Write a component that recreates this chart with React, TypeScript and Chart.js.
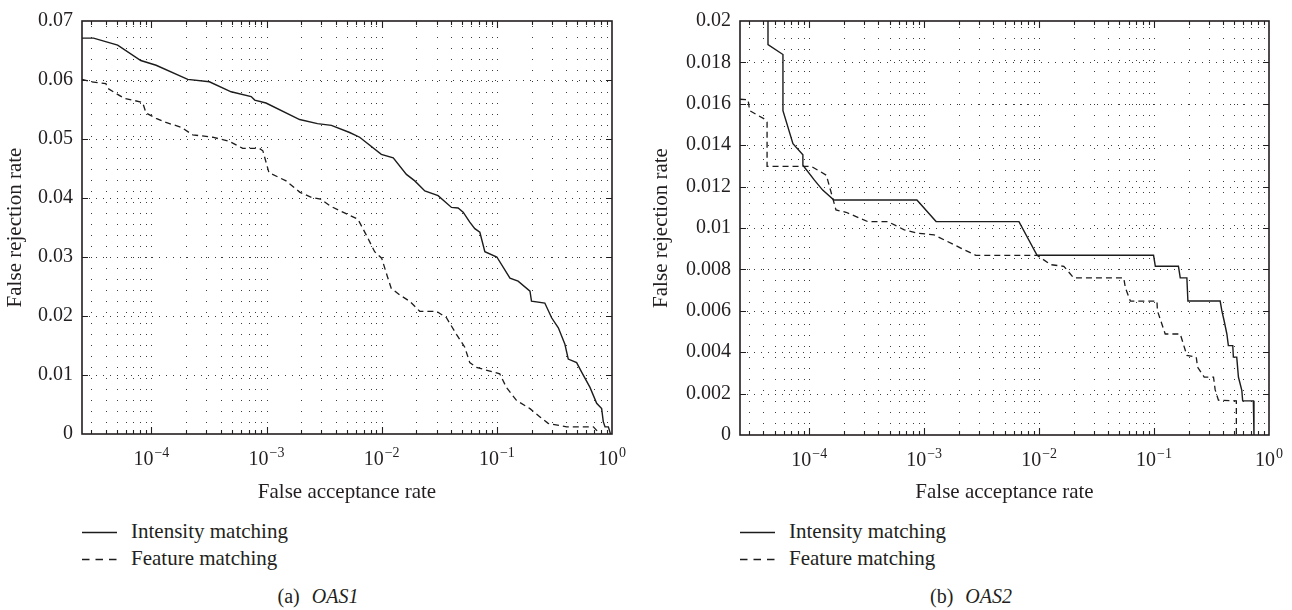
import React, { useEffect, useRef } from 'react';
import { Chart, registerables } from 'chart.js';

Chart.register(...registerables);

const FONT = '"Liberation Serif", "Times New Roman", serif';
const INK = '#231f20';

// ---- axis definitions ----
const X_MIN = 2.5e-5;
const X_MAX = 1;
const xDecades = [1e-4, 1e-3, 1e-2, 1e-1, 1];
const xDecadeBase = '10';
const xDecadeExponents = ['\u22124', '\u22123', '\u22122', '\u22121', '0'];
const xGridExponents = [-5, -4, -3, -2, -1];
const xGridMantissas = [1, 2, 3, 4, 5, 6, 7, 8, 9];

const oas1YMax = 0.07;
const oas1YTicks = [0, 0.01, 0.02, 0.03, 0.04, 0.05, 0.06, 0.07];
const oas1YLabels = ['0', '0.01', '0.02', '0.03', '0.04', '0.05', '0.06', '0.07'];

const oas2YMax = 0.02;
const oas2YTicks = [0, 0.002, 0.004, 0.006, 0.008, 0.01, 0.012, 0.014, 0.016, 0.018, 0.02];
const oas2YLabels = ['0', '0.002', '0.004', '0.006', '0.008', '0.01', '0.012', '0.014', '0.016', '0.018', '0.02'];

// ---- (a) OAS1 ----
const oas1IntensityFar = [2.5e-5, 3.15e-5, 5.1e-5, 8.1e-5, 1.1e-4, 2.07e-4, 3.19e-4, 4.93e-4, 7.36e-4, 7.9e-4, 9.9e-4, 1.94e-3, 2.77e-3, 3.66e-3, 5.27e-3, 6.44e-3, 9.93e-3, 0.0126, 0.0164, 0.0194, 0.0237, 0.0309, 0.0404, 0.0461, 0.051, 0.0582, 0.0644, 0.0712, 0.0787, 0.1, 0.13, 0.153, 0.194, 0.2, 0.261, 0.299, 0.342, 0.39, 0.417, 0.493, 0.545, 0.644, 0.736, 0.813, 0.84, 0.87, 0.93, 0.97];
const oas1IntensityFrr = [0.0671, 0.0671, 0.0659, 0.0633, 0.0625, 0.0601, 0.0597, 0.058, 0.0572, 0.0566, 0.0561, 0.0533, 0.0526, 0.0523, 0.0511, 0.0503, 0.0474, 0.0468, 0.044, 0.0429, 0.0412, 0.0404, 0.0384, 0.0383, 0.0376, 0.0359, 0.0348, 0.0342, 0.0309, 0.03, 0.0264, 0.0259, 0.0242, 0.0225, 0.0222, 0.0197, 0.018, 0.0152, 0.0127, 0.0121, 0.0105, 0.0079, 0.0052, 0.0043, 0.0021, 0.0012, 0.0012, 0];

const oas1FeatureFar = [2.5e-5, 2.99e-5, 4.03e-5, 4.17e-5, 4.77e-5, 5.82e-5, 8.4e-5, 9.0e-5, 1.1e-4, 1.34e-4, 1.81e-4, 2.29e-4, 3.41e-4, 4.77e-4, 6.22e-4, 8.69e-4, 9.3e-4, 1.05e-3, 1.48e-3, 1.94e-3, 2.45e-3, 2.95e-3, 3.6e-3, 6.22e-3, 7.36e-3, 8.69e-3, 0.01, 0.011, 0.0121, 0.0143, 0.0175, 0.0214, 0.0299, 0.0365, 0.0446, 0.0527, 0.0582, 0.0665, 0.0929, 0.106, 0.121, 0.148, 0.194, 0.237, 0.279, 0.404, 0.689, 0.787];
const oas1FeatureFrr = [0.0601, 0.0597, 0.0594, 0.0586, 0.0579, 0.0569, 0.0562, 0.0544, 0.0535, 0.0528, 0.052, 0.0507, 0.0503, 0.0496, 0.0484, 0.0484, 0.048, 0.0443, 0.0429, 0.041, 0.0401, 0.0398, 0.0386, 0.0364, 0.0337, 0.0309, 0.0298, 0.0272, 0.0247, 0.0236, 0.0225, 0.0208, 0.0208, 0.0197, 0.0169, 0.0147, 0.0121, 0.0113, 0.0105, 0.0102, 0.0079, 0.0057, 0.0043, 0.0029, 0.0018, 0.0012, 0.0012, 0];

// ---- (b) OAS2 ----
const oas2IntensityFar = [4.38e-5, 4.38e-5, 5.91e-5, 5.91e-5, 7.22e-5, 8.81e-5, 8.81e-5, 1.11e-4, 1.31e-4, 1.64e-4, 8.65e-4, 1.27e-3, 6.68e-3, 9.6e-3, 0.099, 0.1026, 0.163, 0.169, 0.193, 0.197, 0.376, 0.389, 0.407, 0.43, 0.443, 0.484, 0.49, 0.524, 0.542, 0.58, 0.59, 0.731, 0.74];
const oas2IntensityFrr = [0.02, 0.01886, 0.01838, 0.01567, 0.01407, 0.01354, 0.01303, 0.01231, 0.01183, 0.01135, 0.01135, 0.01031, 0.01031, 0.00868, 0.00868, 0.00815, 0.00815, 0.00759, 0.00759, 0.00647, 0.00647, 0.006, 0.00552, 0.00488, 0.00432, 0.00432, 0.00376, 0.00376, 0.0028, 0.00216, 0.00165, 0.00165, 0];

const oas2FeatureFar = [2.5e-5, 2.94e-5, 3.03e-5, 4.15e-5, 4.3e-5, 4.3e-5, 1.04e-4, 1.41e-4, 1.71e-4, 2.09e-4, 3.23e-4, 4.82e-4, 6.72e-4, 8.77e-4, 1.22e-3, 2.08e-3, 2.81e-3, 9.6e-3, 0.0126, 0.0164, 0.02, 0.0545, 0.0563, 0.0622, 0.106, 0.107, 0.125, 0.169, 0.193, 0.233, 0.239, 0.273, 0.329, 0.34, 0.363, 0.52, 0.52];
const oas2FeatureFrr = [0.01622, 0.0162, 0.01567, 0.01524, 0.01511, 0.01298, 0.01298, 0.01255, 0.01087, 0.01076, 0.01031, 0.01031, 0.00991, 0.00975, 0.00967, 0.00903, 0.00868, 0.00868, 0.00823, 0.00815, 0.00759, 0.00759, 0.00711, 0.00647, 0.00647, 0.006, 0.00488, 0.00488, 0.00384, 0.00376, 0.00328, 0.0028, 0.0028, 0.00219, 0.00168, 0.00165, 0];

const seriesNames = ['Intensity matching', 'Feature matching'];

function zip(xs: number[], ys: number[]) {
  const n = Math.min(xs.length, ys.length);
  const out: { x: number; y: number }[] = [];
  for (let i = 0; i < n; i++) out.push({ x: xs[i], y: ys[i] });
  return out;
}

function decadeIndex(v: number) {
  for (let i = 0; i < xDecades.length; i++) {
    if (Math.abs(Math.log10(v) - Math.log10(xDecades[i])) < 1e-9) return i;
  }
  return -1;
}

function xTickValues() {
  const out: number[] = [];
  for (const e of xGridExponents) {
    for (const m of xGridMantissas) {
      const v = m * Math.pow(10, e);
      if (v > X_MIN * 1.0001 && v < X_MAX) out.push(v);
    }
  }
  out.push(X_MAX);
  return out;
}

const framePlugin = {
  id: 'frameAndGrid',
  beforeDatasetsDraw(chart: any) {
    const { ctx, chartArea: a } = chart;
    const xs = chart.scales.x;
    const ys = chart.scales.y;
    ctx.save();
    ctx.strokeStyle = '#3c3c3c';
    ctx.lineWidth = 1;
    ctx.setLineDash([1, 10]);
    for (const t of xs.ticks) {
      const px = Math.round(xs.getPixelForValue(t.value)) + 0.5;
      if (px <= a.left + 2 || px >= a.right - 2) continue;
      ctx.beginPath();
      ctx.moveTo(px, a.bottom);
      ctx.lineTo(px, a.top);
      ctx.stroke();
    }
    ctx.setLineDash([1, 6]);
    for (const t of ys.ticks) {
      const py = Math.round(ys.getPixelForValue(t.value)) + 0.5;
      if (py <= a.top + 2 || py >= a.bottom - 2) continue;
      ctx.beginPath();
      ctx.moveTo(a.left, py);
      ctx.lineTo(a.right, py);
      ctx.stroke();
    }
    ctx.restore();
  },
  afterDatasetsDraw(chart: any) {
    const { ctx, chartArea: a } = chart;
    const xs = chart.scales.x;
    const ys = chart.scales.y;
    ctx.save();
    ctx.setLineDash([]);
    ctx.strokeStyle = INK;
    ctx.lineWidth = 1.1;
    for (const t of xs.ticks) {
      const px = Math.round(xs.getPixelForValue(t.value)) + 0.5;
      if (px <= a.left + 2 || px >= a.right - 2) continue;
      const len = t.major ? 7 : 4;
      ctx.beginPath();
      ctx.moveTo(px, a.bottom);
      ctx.lineTo(px, a.bottom - len);
      ctx.moveTo(px, a.top);
      ctx.lineTo(px, a.top + len);
      ctx.stroke();
    }
    for (const t of ys.ticks) {
      const py = Math.round(ys.getPixelForValue(t.value)) + 0.5;
      if (py <= a.top + 2 || py >= a.bottom - 2) continue;
      ctx.beginPath();
      ctx.moveTo(a.left, py);
      ctx.lineTo(a.left + 6, py);
      ctx.moveTo(a.right, py);
      ctx.lineTo(a.right - 6, py);
      ctx.stroke();
    }
    ctx.lineWidth = 1.6;
    ctx.strokeRect(a.left, a.top, a.right - a.left, a.bottom - a.top);

    // decade labels 10^k with a raised exponent
    ctx.fillStyle = INK;
    ctx.textAlign = 'left';
    ctx.textBaseline = 'alphabetic';
    const baseY = a.bottom + 31;
    for (const t of xs.ticks) {
      const i = decadeIndex(t.value);
      if (i < 0) continue;
      const px = xs.getPixelForValue(t.value);
      const exp = xDecadeExponents[i];
      ctx.font = `20px ${FONT}`;
      const w1 = ctx.measureText(xDecadeBase).width;
      ctx.font = `14px ${FONT}`;
      const w2 = ctx.measureText(exp).width;
      const start = px - (w1 + 1 + w2) / 2;
      ctx.font = `20px ${FONT}`;
      ctx.fillText(xDecadeBase, start, baseY);
      ctx.font = `14px ${FONT}`;
      ctx.fillText(exp, start + w1 + 1, baseY - 8.5);
    }
    ctx.restore();
  },
};

type Props = {
  width: number;
  height: number;
  yAxisWidth: number;
  padTop: number;
  padRight: number;
  xAxisHeight: number;
  yMax: number;
  yTicks: number[];
  yLabels: string[];
  intensity: { x: number; y: number }[];
  feature: { x: number; y: number }[];
};

function RocChart(p: Props) {
  const ref = useRef<HTMLCanvasElement>(null);
  useEffect(() => {
    if (!ref.current) return;
    const chart = new Chart(ref.current, {
      type: 'line',
      data: {
        datasets: [
          {
            label: seriesNames[0],
            data: p.intensity,
            borderColor: '#1c1c1c',
            borderWidth: 1.4,
            pointRadius: 0,
            fill: false,
            tension: 0,
          },
          {
            label: seriesNames[1],
            data: p.feature,
            borderColor: '#1c1c1c',
            borderWidth: 1.3,
            borderDash: [6, 4],
            pointRadius: 0,
            fill: false,
            tension: 0,
          },
        ],
      },
      options: {
        animation: false,
        responsive: false,
        devicePixelRatio: 1,
        events: [],
        layout: { padding: { top: p.padTop, right: p.padRight, left: 0, bottom: 0 } },
        plugins: {
          legend: { display: false },
          tooltip: { enabled: false },
        },
        scales: {
          x: {
            type: 'logarithmic',
            position: 'bottom',
            min: X_MIN,
            max: X_MAX,
            afterBuildTicks: (scale: any) => {
              scale.ticks = xTickValues().map((v) => ({ value: v, major: decadeIndex(v) >= 0 }));
            },
            afterFit: (scale: any) => {
              scale.height = p.xAxisHeight;
            },
            grid: { display: false, drawTicks: false },
            border: { display: false },
            ticks: {
              autoSkip: false,
              maxRotation: 0,
              minRotation: 0,
              padding: 12,
              color: INK,
              font: { family: FONT, size: 20 },
              callback: () => '',
            },
            title: {
              display: true,
              text: 'False acceptance rate',
              color: INK,
              font: { family: FONT, size: 21 },
              padding: { top: 0, bottom: 0 },
            },
          },
          y: {
            type: 'linear',
            min: 0,
            max: p.yMax,
            afterBuildTicks: (scale: any) => {
              scale.ticks = p.yTicks.map((v) => ({ value: v }));
            },
            afterFit: (scale: any) => {
              scale.width = p.yAxisWidth;
            },
            grid: { display: false, drawTicks: false },
            border: { display: false },
            ticks: {
              padding: 9,
              color: INK,
              font: { family: FONT, size: 20 },
              callback: (_v: any, i: number) => p.yLabels[i] ?? '',
            },
            title: {
              display: true,
              text: 'False rejection rate',
              color: INK,
              font: { family: FONT, size: 21 },
              padding: { top: 3, bottom: 0 },
            },
          },
        },
      } as any,
      plugins: [framePlugin],
    });
    return () => chart.destroy();
  }, []);
  return <canvas ref={ref} width={p.width} height={p.height} style={{ display: 'block' }} />;
}

function LegendRow({ left, top, dashed, text }: { left: number; top: number; dashed: boolean; text: string }) {
  return (
    <div
      style={{
        position: 'absolute',
        left,
        top,
        height: 24,
        display: 'flex',
        alignItems: 'center',
        whiteSpace: 'nowrap',
        font: `21px ${FONT}`,
        lineHeight: '24px',
        color: INK,
      }}
    >
      <svg width={35} height={24} style={{ display: 'block' }}>
        <line
          x1={0}
          x2={35}
          y1={13.5}
          y2={13.5}
          stroke="#1c1c1c"
          strokeWidth={1.4}
          strokeDasharray={dashed ? '7.5 6' : undefined}
        />
      </svg>
      <span style={{ marginLeft: 14 }}>{text}</span>
    </div>
  );
}

function Caption({ center, tag, name }: { center: number; tag: string; name: string }) {
  return (
    <div
      style={{
        position: 'absolute',
        left: center - 100,
        width: 200,
        top: 584,
        height: 24,
        textAlign: 'center',
        font: `20px ${FONT}`,
        lineHeight: '24px',
        color: INK,
        whiteSpace: 'nowrap',
      }}
    >
      {tag}
      <span style={{ fontStyle: 'italic', marginLeft: 12 }}>{name}</span>
    </div>
  );
}

export default function App() {
  return (
    <div
      style={{
        position: 'absolute',
        left: 0,
        top: 0,
        width: 1292,
        height: 610,
        background: '#fff',
        overflow: 'hidden',
      }}
    >
      <div style={{ position: 'absolute', left: 0, top: 0 }}>
        <RocChart
          width={640}
          height={505}
          yAxisWidth={82}
          padTop={17}
          padRight={28}
          xAxisHeight={71}
          yMax={oas1YMax}
          yTicks={oas1YTicks}
          yLabels={oas1YLabels}
          intensity={zip(oas1IntensityFar, oas1IntensityFrr)}
          feature={zip(oas1FeatureFar, oas1FeatureFrr)}
        />
      </div>
      <div style={{ position: 'absolute', left: 646, top: 0 }}>
        <RocChart
          width={646}
          height={505}
          yAxisWidth={94}
          padTop={18}
          padRight={23}
          xAxisHeight={70}
          yMax={oas2YMax}
          yTicks={oas2YTicks}
          yLabels={oas2YLabels}
          intensity={zip(oas2IntensityFar, oas2IntensityFrr)}
          feature={zip(oas2FeatureFar, oas2FeatureFrr)}
        />
      </div>
      <LegendRow left={82} top={519} dashed={false} text={seriesNames[0]} />
      <LegendRow left={82} top={546} dashed={true} text={seriesNames[1]} />
      <LegendRow left={740} top={519} dashed={false} text={seriesNames[0]} />
      <LegendRow left={740} top={546} dashed={true} text={seriesNames[1]} />
      <Caption center={318} tag="(a)" name="OAS1" />
      <Caption center={971} tag="(b)" name="OAS2" />
    </div>
  );
}
